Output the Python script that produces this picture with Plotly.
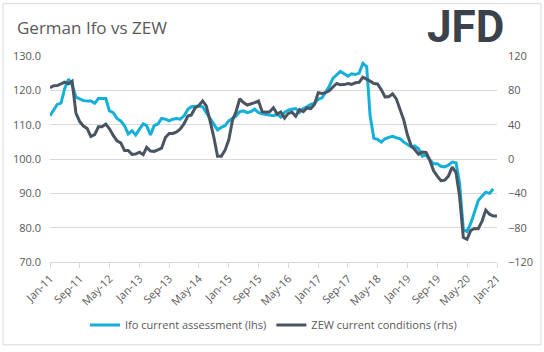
import pandas as pd
import plotly.graph_objects as go

# Monthly dates
ifo_dates = pd.date_range("2011-01-01", periods=120, freq="MS")   # Jan-11 .. Dec-20
zew_dates = pd.date_range("2011-01-01", periods=121, freq="MS")   # Jan-11 .. Jan-21

ifo_current = [
    112.6, 114.5, 115.9, 116.3, 120.5, 123.3, 121.5, 118.0, 117.6, 117.0, 116.9, 116.9,
    116.2, 117.6, 117.6, 117.6, 114.0, 113.5, 111.8, 111.1, 109.7, 107.3, 108.2, 107.0,
    108.7, 110.2, 109.7, 107.0, 109.7, 110.2, 111.8, 111.6, 111.1, 111.6, 111.8, 111.6,
    112.6, 114.5, 115.2, 115.4, 115.4, 115.2, 113.5, 111.6, 110.2, 108.5, 109.2, 109.7,
    111.1, 111.8, 112.5, 113.8, 114.0, 113.5, 113.8, 114.5, 113.5, 113.2, 113.0, 112.8,
    112.6, 113.0, 112.2, 113.6, 114.2, 114.5, 114.7, 113.6, 114.7, 115.2, 115.9, 116.2,
    117.4, 117.8, 119.5, 121.2, 123.5, 124.5, 125.5, 124.8, 124.1, 124.8, 124.6, 125.0,
    127.9, 126.9, 112.6, 106.0, 105.7, 104.9, 105.9, 106.3, 106.6, 106.2, 105.9, 104.9,
    104.2, 103.5, 103.8, 103.0, 100.8, 101.2, 99.8, 98.6, 98.6, 97.9, 97.7, 98.2,
    99.1, 98.9, 93.0, 79.4, 78.9, 81.3, 84.5, 87.9, 89.2, 90.3, 90.0, 91.3,
]

zew_current = [
    83.0, 85.3, 85.5, 87.1, 89.5, 87.6, 90.6, 53.5, 43.6, 38.4, 35.4, 26.2,
    28.4, 37.6, 37.6, 40.7, 35.2, 27.5, 21.1, 18.8, 10.0, 10.0, 5.4, 5.8,
    7.9, 5.2, 13.6, 9.2, 8.9, 10.6, 12.6, 25.0, 29.7, 29.7, 31.5, 35.0,
    41.2, 50.0, 51.3, 59.5, 62.1, 67.7, 61.8, 44.3, 25.4, 3.2, 3.3, 10.0,
    22.4, 45.5, 55.1, 70.2, 65.7, 62.9, 63.9, 65.7, 67.5, 55.2, 54.4, 55.0,
    59.7, 52.3, 54.8, 47.7, 53.1, 54.5, 49.9, 57.6, 55.1, 59.5, 58.8, 63.5,
    77.3, 76.4, 77.3, 79.4, 83.9, 88.0, 86.4, 86.7, 87.9, 87.0, 88.8, 89.3,
    95.2, 92.3, 90.7, 87.9, 87.4, 80.6, 72.4, 72.6, 76.0, 70.1, 58.2, 45.3,
    27.6, 15.0, 11.1, 5.5, 8.2, 7.8, -1.1, -13.5, -19.9, -25.3, -24.7, -19.9,
    -9.5, -15.7, -43.1, -91.5, -93.5, -83.1, -80.9, -81.3, -72.3, -59.5, -64.3, -66.5,
    -66.4,
]

left_ticks = [70, 80, 90, 100, 110, 120, 130]
right_ticks = [-120, -80, -40, 0, 40, 80, 120]

IFO_COLOR = "#14b0d9"
ZEW_COLOR = "#4a5561"
TXT = "#595959"
GRID = "#d9d9d9"
FONT = "Open Sans"

fig = go.Figure()
fig.add_trace(go.Scatter(x=ifo_dates, y=ifo_current, mode="lines",
                         name="Ifo current assessment (lhs)",
                         line=dict(color=IFO_COLOR, width=3), yaxis="y"))
fig.add_trace(go.Scatter(x=zew_dates, y=zew_current, mode="lines",
                         name="ZEW current conditions (rhs)",
                         line=dict(color=ZEW_COLOR, width=3), yaxis="y2"))

L, R, T, B = 50, 47, 56, 87
W, H = 544, 352
pw, ph = W - L - R, H - T - B

def px_x(x):
    return (x - L) / pw

def px_y(y):
    return (H - B - y) / ph

fig.update_layout(
    width=W, height=H,
    margin=dict(l=L, r=R, t=T, b=B),
    paper_bgcolor="white", plot_bgcolor="white",
    font=dict(family=FONT, size=11, color=TXT),
    title=dict(text="German Ifo vs ZEW", xref="container", yref="container",
               x=17 / W, y=1 - 28 / H, xanchor="left", yanchor="middle",
               font=dict(family=FONT, size=17, color=TXT)),
    xaxis=dict(type="date", range=["2011-01-01", "2021-01-01"],
               tick0="2011-01-01", dtick="M8", tickformat="%b-%y",
               tickangle=-45, showgrid=False, showline=True, linecolor=GRID,
               linewidth=1, ticks="outside", ticklen=5, tickcolor=GRID,
               tickfont=dict(size=11, color=TXT), zeroline=False),
    yaxis=dict(range=[70, 130], tickvals=left_ticks,
               ticktext=[f"{v:.1f}" for v in left_ticks],
               showgrid=True, gridcolor=GRID, gridwidth=1, zeroline=False,
               showline=False, ticks="", ticklabelstandoff=8,
               tickfont=dict(size=11, color=TXT)),
    yaxis2=dict(range=[-120, 120], tickvals=right_ticks,
                overlaying="y", side="right", showgrid=False, zeroline=False,
                showline=False, ticks="", ticklabelstandoff=10,
                tickfont=dict(size=11, color=TXT)),
    legend=dict(orientation="h", x=0.5, xanchor="center",
                y=px_y(329), yanchor="middle", itemwidth=30,
                font=dict(size=11, color=TXT), bgcolor="rgba(0,0,0,0)"),
    showlegend=True,
    shapes=[dict(type="rect", xref="paper", yref="paper",
                 x0=px_x(3), x1=px_x(541), y0=px_y(349), y1=px_y(3),
                 line=dict(color=GRID, width=1), fillcolor="rgba(0,0,0,0)",
                 layer="below")],
    annotations=[dict(text="<b>JFD</b>", xref="paper", yref="paper",
                      x=px_x(506), y=px_y(27), xanchor="right", yanchor="middle",
                      showarrow=False,
                      font=dict(family="Roboto", size=44, color="#3b424b"))],
)

fig.write_html("out.html")
